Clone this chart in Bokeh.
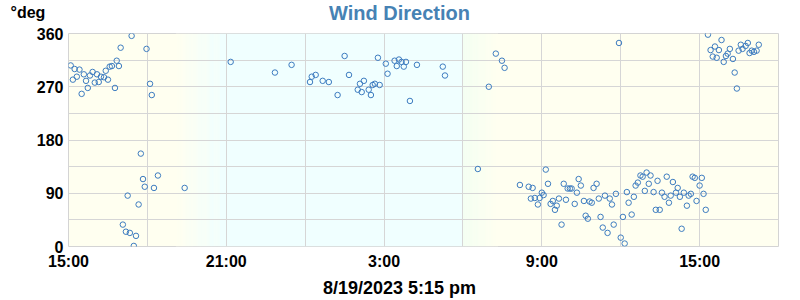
from datetime import datetime
from bokeh.plotting import figure
from bokeh.layouts import column
from bokeh.models import Range1d, FixedTicker
from bokeh.core.properties import value
from bokeh.embed import file_html
from bokeh.resources import INLINE

# ---- data ----
title_text = "Wind Direction"
unit_text = "°deg"
xlabel_text = "8/19/2023 5:15 pm"
start_time = "08/18 15:00"
end_time = "08/19 18:00"

times = [
    "08/18 15:05", "08/18 15:10", "08/18 15:14", "08/18 15:19", "08/18 15:25", "08/18 15:30",
    "08/18 15:35", "08/18 15:40", "08/18 15:44", "08/18 15:49", "08/18 15:55", "08/18 16:00",
    "08/18 16:05", "08/18 16:09", "08/18 16:14", "08/18 16:21", "08/18 16:25", "08/18 16:30",
    "08/18 16:34", "08/18 16:39", "08/18 16:46", "08/18 16:50", "08/18 16:55", "08/18 16:59",
    "08/18 17:24", "08/18 17:58", "08/18 18:06", "08/18 18:10", "08/18 21:10",
    "08/18 17:45", "08/18 17:50", "08/18 18:24", "08/18 17:54", "08/18 18:15", "08/18 19:25",
    "08/18 17:15", "08/18 17:40", "08/18 17:04", "08/18 17:11", "08/18 17:20", "08/18 17:34",
    "08/18 17:29",
    "08/18 22:51", "08/18 23:29", "08/19 00:11", "08/19 00:15", "08/19 00:24", "08/19 00:40",
    "08/19 00:54", "08/19 01:14", "08/19 01:30", "08/19 01:40", "08/19 02:00", "08/19 02:05",
    "08/19 02:09", "08/19 02:14", "08/19 02:25", "08/19 02:30", "08/19 02:34", "08/19 02:39",
    "08/19 02:50", "08/19 02:46", "08/19 03:04", "08/19 03:08", "08/19 03:24", "08/19 03:29",
    "08/19 03:34", "08/19 03:40", "08/19 03:45", "08/19 03:50", "08/19 03:59", "08/19 04:15",
    "08/19 05:14", "08/19 05:19",
    "08/19 06:59", "08/19 07:15", "08/19 07:29", "08/19 07:35", "08/19 11:56",
    "08/19 15:19", "08/19 15:50", "08/19 15:25", "08/19 15:35", "08/19 15:44", "08/19 15:30",
    "08/19 15:39", "08/19 15:55", "08/19 16:00", "08/19 16:04", "08/19 16:09", "08/19 16:16",
    "08/19 16:20", "08/19 16:25", "08/19 16:29", "08/19 16:34", "08/19 16:38", "08/19 16:45",
    "08/19 16:50", "08/19 16:54", "08/19 16:59", "08/19 17:04", "08/19 17:10", "08/19 17:15",
    "08/19 06:34", "08/19 09:09", "08/19 08:10", "08/19 08:30", "08/19 08:39", "08/19 09:14",
    "08/19 09:00", "08/19 09:04", "08/19 08:35", "08/19 08:44", "08/19 08:55", "08/19 08:51",
    "08/19 09:20", "08/19 09:25", "08/19 09:34", "08/19 09:30", "08/19 09:39", "08/19 09:45",
    "08/19 09:50", "08/19 09:55", "08/19 09:59", "08/19 10:04", "08/19 10:08", "08/19 10:20",
    "08/19 10:15", "08/19 10:24", "08/19 10:29", "08/19 10:36", "08/19 10:40", "08/19 10:45",
    "08/19 10:49", "08/19 10:54", "08/19 10:58", "08/19 11:05", "08/19 11:10", "08/19 11:14",
    "08/19 11:19", "08/19 11:24", "08/19 11:30", "08/19 11:35", "08/19 11:40", "08/19 11:44",
    "08/19 11:49", "08/19 12:00", "08/19 12:05", "08/19 12:09", "08/19 12:14", "08/19 12:18",
    "08/19 12:25", "08/19 12:30", "08/19 12:34", "08/19 12:39", "08/19 12:45", "08/19 12:50",
    "08/19 12:59", "08/19 13:08", "08/19 12:55", "08/19 13:04", "08/19 13:15", "08/19 13:20",
    "08/19 13:29", "08/19 13:24", "08/19 13:34", "08/19 13:40", "08/19 13:45", "08/19 13:50",
    "08/19 13:54", "08/19 13:59", "08/19 14:06", "08/19 14:10", "08/19 14:15", "08/19 14:19",
    "08/19 14:24", "08/19 14:31", "08/19 14:35", "08/19 14:40", "08/19 14:44", "08/19 14:49",
    "08/19 14:53", "08/19 15:00", "08/19 15:05", "08/19 15:09", "08/19 15:14",
]

direction = [
    306, 282, 300, 287, 299, 258,
    291, 280, 268, 289, 295, 277,
    291, 278, 287, 286, 297, 282,
    304, 305, 268, 314, 305, 336,
    356, 334, 275, 256, 312,
    157, 114, 120, 101, 99, 99,
    86, 71, 37, 25, 23, 18,
    1,
    294, 307, 278, 287, 290, 280,
    278, 256, 322, 290, 265, 275,
    261, 280, 265, 256, 273, 275,
    273, 319, 309, 292, 314, 305,
    316, 312, 304, 312, 246, 307,
    304, 289,
    270, 326, 314, 302, 344,
    358, 349, 332, 338, 332, 321,
    319, 312, 322, 326, 334, 317,
    294, 267, 331, 341, 334, 339,
    344, 327, 331, 329, 331, 341,
    131, 130, 104, 101, 99, 106,
    91, 87, 81, 82, 82, 71,
    72, 77, 69, 62, 81, 37,
    106, 79, 98, 98, 98, 91,
    72, 114, 103, 77, 52, 47,
    76, 74, 99, 106, 81, 50,
    32, 86, 23, 81, 71, 37,
    89, 15, 50, 5, 92, 74,
    54, 84, 103, 108, 120, 118,
    125, 120, 94, 106, 92, 62,
    62, 111, 91, 84, 118, 74,
    86, 109, 91, 99, 84, 30,
    91, 69, 86, 89, 118, 116,
    77, 103, 116, 89, 62,
]

x_tick_labels = ["15:00", "21:00", "3:00", "9:00", "15:00"]
y_tick_values = [0, 90, 180, 270, 360]

# sunset / sunrise shading (clock times)
sunset_start, sunset_end = "08/18 19:05", "08/18 20:45"
sunrise_start, sunrise_end = "08/19 06:00", "08/19 07:20"


def parse(s):
    return datetime.strptime("2023/" + s, "%Y/%m/%d %H:%M")


t0 = parse(start_time)


def hours(s):
    return (parse(s) - t0).total_seconds() / 3600.0


x_hours = [hours(t) for t in times]
x_end = hours(end_time)

DAY = (255, 255, 240)
NIGHT = (240, 255, 255)
DAWN = (242, 255, 243)
FONT = "Liberation Sans"


def hexc(c):
    return "#%02x%02x%02x" % tuple(int(round(v)) for v in c)


W = 800
TOP_H, MAIN_H, BOT_H = 22, 250, 28


def strip(height):
    f = figure(width=W, height=height, output_backend="svg", toolbar_location=None,
               x_range=Range1d(0, W), y_range=Range1d(height, 0),
               x_axis_type=None, y_axis_type=None, frame_align=False,
               min_border=0, min_border_left=0, min_border_right=0,
               min_border_top=0, min_border_bottom=0)
    f.outline_line_color = None
    f.background_fill_color = "white"
    f.border_fill_color = "white"
    f.grid.visible = False
    return f


# ---- top strip: title and unit ----
top = strip(TOP_H)
top.text(x=[399], y=[12], text=[title_text], text_align="center", text_baseline="middle",
         text_font=value(FONT), text_font_style="bold", text_font_size="20px",
         text_color="#4682b4")
top.text(x=[10], y=[12], text=[unit_text], text_align="left", text_baseline="middle",
         text_font=value(FONT), text_font_style="bold", text_font_size="16px",
         text_color="black")

# ---- main plot ----
p = figure(width=W, height=MAIN_H, output_backend="svg", toolbar_location=None,
           x_range=Range1d(0, x_end), y_range=Range1d(0, 360), frame_align=False,
           min_border_left=68, min_border_right=22, min_border_top=11,
           min_border_bottom=26)
p.background_fill_color = hexc(DAY)
p.border_fill_color = "white"
p.outline_line_color = "#d4d4d4"
p.outline_line_width = 1

a0, a1 = hours(sunset_start), hours(sunset_end)
b0, b1 = hours(sunrise_start), hours(sunrise_end)
n = 40
lefts, rights, cols = [], [], []
for i in range(n):
    f = (i + 0.5) / n
    lefts.append(a0 + (a1 - a0) * i / n)
    rights.append(a0 + (a1 - a0) * (i + 1) / n + 0.001)
    cols.append(hexc(tuple(DAY[k] + (NIGHT[k] - DAY[k]) * f for k in range(3))))
lefts.append(a1)
rights.append(b0)
cols.append(hexc(NIGHT))
for i in range(n):
    f = (i + 0.5) / n
    lefts.append(b0 + (b1 - b0) * i / n)
    rights.append(b0 + (b1 - b0) * (i + 1) / n + 0.001)
    cols.append(hexc(tuple(DAWN[k] + (DAY[k] - DAWN[k]) * f for k in range(3))))
p.quad(left=lefts, right=rights, bottom=0, top=360, fill_color=cols,
       line_color=None, level="underlay")

p.xgrid.ticker = FixedTicker(ticks=[3 * i for i in range(10)])
p.ygrid.ticker = FixedTicker(ticks=[45 * i for i in range(9)])
for g in (p.xgrid, p.ygrid):
    g.grid_line_color = "#d6d6d6"
    g.grid_line_width = 1

p.xaxis.ticker = FixedTicker(ticks=[0, 6, 12, 18, 24])
p.xaxis.major_label_overrides = {i * 6: lab for i, lab in enumerate(x_tick_labels)}
p.yaxis.ticker = FixedTicker(ticks=y_tick_values)
for ax in (p.xaxis, p.yaxis):
    ax.axis_line_color = None
    ax.major_tick_line_color = None
    ax.minor_tick_line_color = None
    ax.major_tick_out = 0
    ax.major_tick_in = 0
    ax.major_label_text_font = FONT
    ax.major_label_text_font_style = "bold"
    ax.major_label_text_font_size = "16px"
    ax.major_label_text_color = "black"
p.xaxis.major_label_standoff = 6
p.yaxis.major_label_standoff = 5

p.scatter(x_hours, direction, marker="circle", size=5.5, fill_color=None,
          line_color="#3d7cc0", line_width=1)

# ---- bottom strip: x label ----
bot = strip(BOT_H)
bot.text(x=[399], y=[15], text=[xlabel_text], text_align="center", text_baseline="middle",
         text_font=value(FONT), text_font_style="bold", text_font_size="18px",
         text_color="black")

layout = column(top, p, bot, spacing=0)
open("out.html", "w").write(file_html(layout, INLINE))
